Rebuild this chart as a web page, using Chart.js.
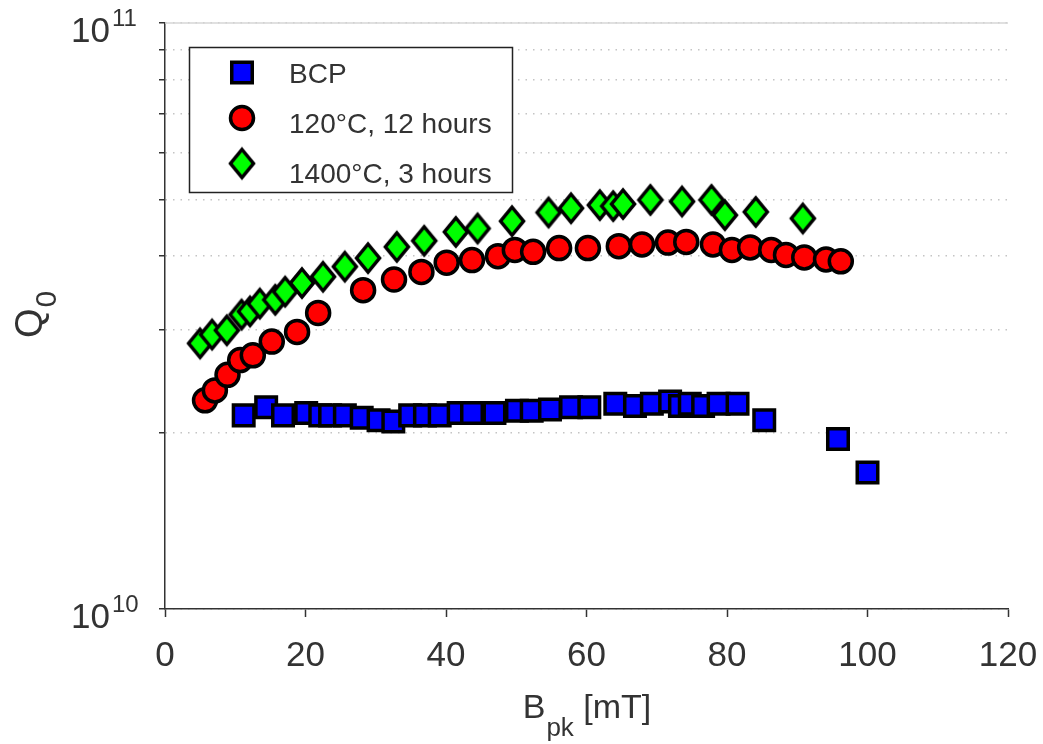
<!DOCTYPE html>
<html>
<head>
<meta charset="utf-8">
<script src="https://cdn.jsdelivr.net/npm/chart.js@4.4.1/dist/chart.umd.min.js"></script>
<style>
  html, body { margin: 0; padding: 0; background: #fff; }
  #q0Chart { display: block; }
</style>
</head>
<body>
<canvas id="q0Chart" width="1043" height="744"></canvas>
<script>
// Q0 values are stored in units of 1e10
const Q_UNIT = 1e10;

// BCP only
const bcpField = [11.2, 14.4, 16.8, 20.1, 22.1, 23.5, 25.6, 28.0, 30.4, 32.5, 34.9, 37.0, 39.1, 41.8, 43.7, 46.9, 50.1, 52.2, 54.8, 57.8, 60.4, 64.1, 66.9, 69.3, 71.9, 73.3, 74.7, 76.6, 78.8, 81.5, 85.3, 95.8, 100.0];
const bcpQ0 = [2.14, 2.21, 2.14, 2.16, 2.14, 2.14, 2.14, 2.12, 2.10, 2.09, 2.14, 2.14, 2.14, 2.16, 2.16, 2.16, 2.18, 2.18, 2.19, 2.21, 2.21, 2.24, 2.22, 2.24, 2.26, 2.22, 2.24, 2.22, 2.24, 2.24, 2.10, 1.95, 1.71];

// 120 C bake, 12 hours
const bake120Field = [5.7, 7.1, 8.9, 10.7, 12.5, 15.2, 18.8, 21.8, 28.2, 32.6, 36.5, 40.1, 43.7, 47.4, 49.8, 52.4, 56.1, 60.2, 64.6, 67.9, 71.6, 74.2, 78.0, 80.7, 83.3, 86.3, 88.4, 91.0, 94.1, 96.2];
const bake120Q0 = [2.27, 2.36, 2.51, 2.66, 2.71, 2.86, 2.97, 3.20, 3.50, 3.65, 3.76, 3.90, 3.94, 4.00, 4.10, 4.07, 4.13, 4.13, 4.16, 4.19, 4.22, 4.23, 4.19, 4.10, 4.14, 4.10, 4.02, 3.98, 3.95, 3.92];

// 1400 C anneal, 3 hours
const anneal1400Field = [5.0, 6.7, 8.8, 10.9, 12.1, 13.5, 15.7, 17.1, 19.5, 22.5, 25.6, 28.9, 33.0, 36.9, 41.4, 44.5, 49.4, 54.6, 57.8, 61.9, 63.8, 65.2, 69.1, 73.6, 77.8, 79.7, 84.1, 90.8];
const anneal1400Q0 = [2.84, 2.94, 2.99, 3.18, 3.22, 3.32, 3.37, 3.48, 3.60, 3.69, 3.84, 3.97, 4.15, 4.25, 4.40, 4.46, 4.59, 4.75, 4.83, 4.89, 4.87, 4.91, 4.99, 4.96, 4.99, 4.70, 4.76, 4.64];

const seriesLabels = ['BCP', '120°C, 12 hours', '1400°C, 3 hours'];
const xTicks = { min: 0, max: 120, step: 20 };
// log axis ticks, in units of 1e10
const yTicks = [1, 2, 3, 4, 5, 6, 7, 8, 9, 10];

const FONT = '"Liberation Sans", Arial, sans-serif';
const TEXT = '#333';

function toPoints(xs, ys) {
  return xs.map((x, i) => ({ x: x, y: ys[i] * Q_UNIT }));
}

// tall green diamond used as a point image
function makeDiamond(fill) {
  const c = document.createElement('canvas');
  c.width = 30; c.height = 36;
  const g = c.getContext('2d');
  g.beginPath();
  g.moveTo(15, 4);
  g.lineTo(26.5, 18);
  g.lineTo(15, 32);
  g.lineTo(3.5, 18);
  g.closePath();
  g.fillStyle = fill;
  g.fill();
  g.lineWidth = 3.5;
  g.strokeStyle = '#000';
  g.stroke();
  return c;
}
const diamond = makeDiamond('#00ff00');

// solid light line along the top decade
const topLine = {
  id: 'topLine',
  beforeDatasetsDraw(chart) {
    const { ctx, chartArea, scales } = chart;
    const y = scales.y.getPixelForValue(yTicks[yTicks.length - 1] * Q_UNIT);
    ctx.save();
    ctx.strokeStyle = '#d6d6d6';
    ctx.lineWidth = 1.5;
    ctx.beginPath();
    ctx.moveTo(chartArea.left, y);
    ctx.lineTo(chartArea.right, y);
    ctx.stroke();
    ctx.restore();
  }
};

// decade labels with superscripts and the axis titles with subscripts
const axisText = {
  id: 'axisText',
  afterDraw(chart) {
    const { ctx, chartArea, scales } = chart;
    const yScale = scales.y;
    ctx.save();
    ctx.fillStyle = TEXT;
    ctx.textBaseline = 'alphabetic';

    yScale.ticks.forEach(t => {
      const exp = Math.log10(t.value);
      if (Math.abs(exp - Math.round(exp)) > 1e-6) return;
      const py = yScale.getPixelForValue(t.value);
      ctx.font = '35px ' + FONT;
      ctx.textAlign = 'right';
      ctx.fillText('10', 110, py + 19);
      ctx.font = '24px ' + FONT;
      ctx.textAlign = 'left';
      ctx.fillText(String(Math.round(exp)), 112, py + 3);
    });

    // x title: B_pk [mT]
    ctx.textAlign = 'left';
    const mainFont = '34px ' + FONT;
    const subFont = '26px ' + FONT;
    ctx.font = mainFont;
    const wB = ctx.measureText('B').width;
    const wUnit = ctx.measureText(' [mT]').width;
    ctx.font = subFont;
    const wSub = ctx.measureText('pk').width;
    let x = (chartArea.left + chartArea.right) / 2 - (wB + wSub + wUnit) / 2;
    const base = 718;
    ctx.font = mainFont;
    ctx.fillText('B', x, base);
    x += wB + 1;
    ctx.font = subFont;
    ctx.fillText('pk', x, base + 18);
    x += wSub;
    ctx.font = mainFont;
    ctx.fillText(' [mT]', x, base);

    // y title: Q_0, rotated
    ctx.translate(42, 338);
    ctx.rotate(-Math.PI / 2);
    ctx.font = '38px ' + FONT;
    ctx.fillText('Q', 0, 0);
    const wQ = ctx.measureText('Q').width;
    ctx.font = '30px ' + FONT;
    ctx.fillText('0', wQ + 1, 14);
    ctx.restore();
  }
};

// boxed legend inside the plot
const legendBox = {
  id: 'legendBox',
  afterDatasetsDraw(chart) {
    const { ctx } = chart;
    const box = { left: 189.5, top: 47.5, width: 323, height: 145 };
    ctx.save();
    ctx.fillStyle = '#fff';
    ctx.fillRect(box.left, box.top, box.width, box.height);
    ctx.strokeStyle = '#222';
    ctx.lineWidth = 1.5;
    ctx.strokeRect(box.left, box.top, box.width, box.height);

    chart.data.datasets.forEach((ds, i) => {
      const my = box.top + 25 + i * 45.5;
      ctx.fillStyle = ds.backgroundColor;
      ctx.strokeStyle = ds.borderColor;
      ctx.lineWidth = ds.borderWidth;
      Chart.helpers.drawPoint(ctx, {
        pointStyle: ds.pointStyle,
        rotation: 0,
        radius: ds.pointRadius,
        borderWidth: ds.borderWidth
      }, 242, my);
      ctx.fillStyle = TEXT;
      ctx.font = '28px ' + FONT;
      ctx.textAlign = 'left';
      ctx.textBaseline = 'alphabetic';
      ctx.fillText(ds.label, 289, box.top + 35 + i * 50);
    });
    ctx.restore();
  }
};

new Chart(document.getElementById('q0Chart'), {
  type: 'scatter',
  data: {
    datasets: [
      {
        label: seriesLabels[0],
        data: toPoints(bcpField, bcpQ0),
        pointStyle: 'rect',
        pointRadius: 14.5,
        backgroundColor: '#0000ff',
        borderColor: '#000',
        borderWidth: 3.5,
        order: 3
      },
      {
        label: seriesLabels[1],
        data: toPoints(bake120Field, bake120Q0),
        pointStyle: 'circle',
        pointRadius: 11.5,
        backgroundColor: '#ff0000',
        borderColor: '#000',
        borderWidth: 3.5,
        order: 2
      },
      {
        label: seriesLabels[2],
        data: toPoints(anneal1400Field, anneal1400Q0),
        pointStyle: diamond,
        pointRadius: 14,
        backgroundColor: '#00ff00',
        borderColor: '#000',
        borderWidth: 3.5,
        order: 1
      }
    ]
  },
  options: {
    responsive: false,
    animation: false,
    layout: { autoPadding: false, padding: { top: 23, right: 35, left: 0, bottom: 0 } },
    plugins: {
      legend: { display: false },
      tooltip: { enabled: false }
    },
    scales: {
      x: {
        type: 'linear',
        min: xTicks.min,
        max: xTicks.max,
        afterFit: s => {
          s.height = 135;
          s.paddingLeft = 0;
          s.paddingRight = 0;
        },
        ticks: {
          stepSize: xTicks.step,
          color: TEXT,
          padding: 18,
          maxRotation: 0,
          font: { family: FONT, size: 35 }
        },
        grid: {
          drawOnChartArea: false,
          drawTicks: true,
          tickLength: 8,
          tickColor: '#333',
          tickWidth: 1.5
        },
        border: { color: '#333', width: 1.5 }
      },
      y: {
        type: 'logarithmic',
        min: yTicks[0] * Q_UNIT,
        max: yTicks[yTicks.length - 1] * Q_UNIT,
        afterFit: s => {
          s.width = 165;
          s.paddingTop = 0;
          s.paddingBottom = 0;
        },
        afterBuildTicks: s => { s.ticks = yTicks.map(v => ({ value: v * Q_UNIT })); },
        ticks: { display: false },
        grid: {
          color: '#c4c4c4',
          lineWidth: 1.5,
          drawTicks: true,
          tickLength: 6,
          tickColor: '#333',
          tickWidth: 1.5
        },
        border: { color: '#333', width: 1.5, dash: [1.5, 6] }
      }
    }
  },
  plugins: [topLine, axisText, legendBox]
});
</script>
</body>
</html>
